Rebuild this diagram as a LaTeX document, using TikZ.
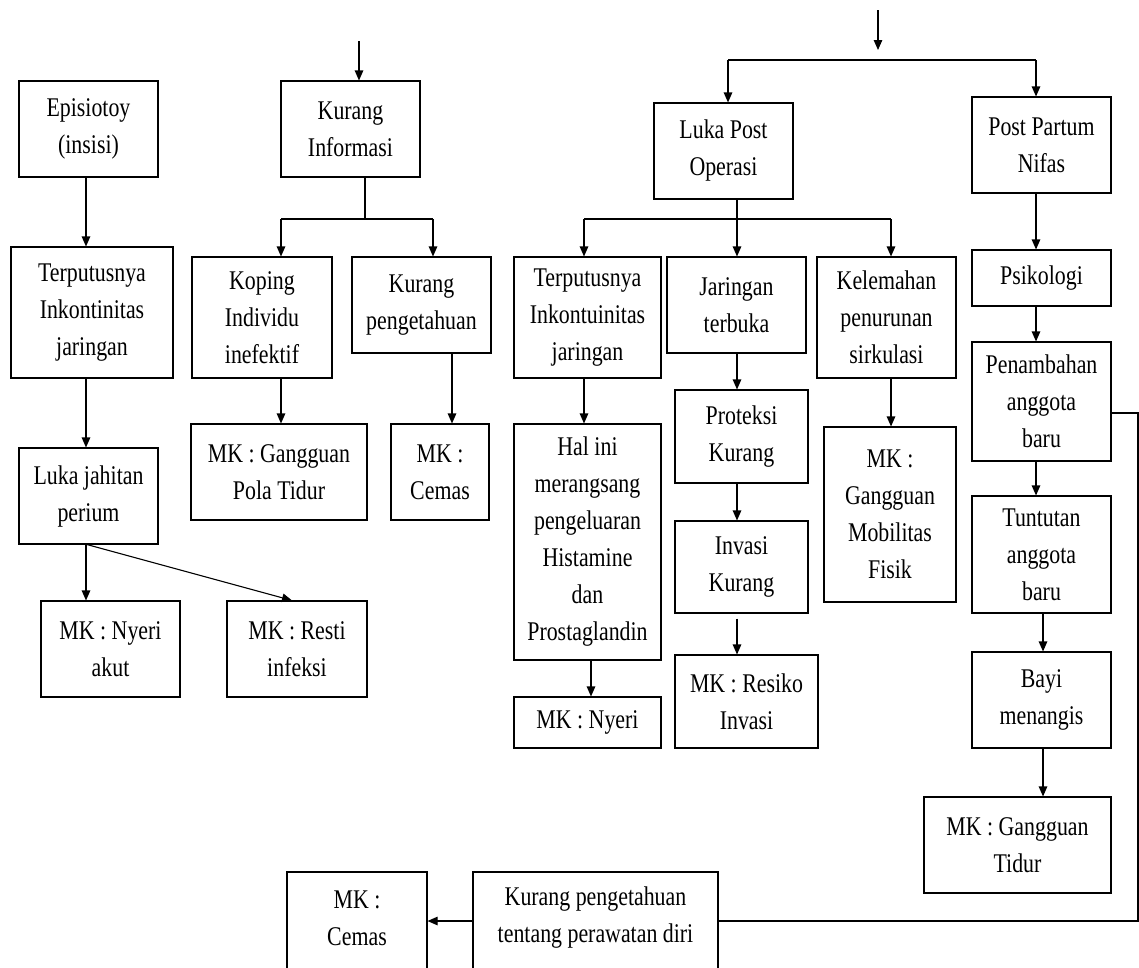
\documentclass[tikz,border=0pt]{standalone}
\usepackage{fontspec}
\setmainfont[FakeStretch=0.81]{Liberation Serif}
\usetikzlibrary{arrows.meta}
\tikzset{
  box/.style={draw, line width=1.1pt, inner sep=0pt, align=center,
    font=\fontsize{27}{37}\selectfont},
  txt/.style={inner sep=0pt, align=center, font=\fontsize{27}{37}\selectfont},
  arr/.style={line width=1.1pt, -{Triangle[length=10pt,width=8.5pt]}},
  ln/.style={line width=1.1pt},
}
\begin{document}
\begin{tikzpicture}[x=1pt,y=-1pt]
\useasboundingbox (0,0) rectangle (1139,967);
\clip (0,0) rectangle (1139,967);
% ---------- left column ----------
\node[box, minimum width=139, minimum height=96] (epi) at (88.5,129) {Episiotoy\\(insisi)};
\node[box, minimum width=162, minimum height=131] (terp1) at (92,312.5) {Terputusnya\\Inkontinitas\\jaringan};
\node[box, minimum width=139, minimum height=96] (luka) at (88.5,496) {Luka jahitan\\perium};
\node[box, minimum width=139, minimum height=96] (mknyeriakut) at (110.5,649) {MK : Nyeri\\akut};
\node[box, minimum width=140, minimum height=96] (mkresti) at (297,649) {MK : Resti\\infeksi};
% ---------- Kurang Informasi ----------
\node[box, minimum width=139, minimum height=96] (kinf) at (350.5,129) {Kurang\\Informasi};
\node[box, minimum width=140, minimum height=121] (koping) at (262,317.5) {Koping\\Individu\\inefektif};
\node[box, minimum width=139, minimum height=96] (kpeng) at (421.5,305) {Kurang\\pengetahuan};
\node[box, minimum width=176, minimum height=96] (mkpola) at (279,472) {MK : Gangguan\\Pola Tidur};
\node[box, minimum width=98, minimum height=96] (mkcemas1) at (440,472) {MK :\\Cemas};
% ---------- Luka Post Operasi ----------
\node[box, minimum width=139, minimum height=96] (lpo) at (723.5,151) {Luka Post\\Operasi};
\node[box, minimum width=147, minimum height=121] (terp2) at (587.5,317.5) {Terputusnya\\Inkontuinitas\\jaringan};
\node[box, minimum width=139, minimum height=96] (jar) at (736.5,305) {Jaringan\\terbuka};
\node[box, minimum width=139, minimum height=121] (kel) at (886.5,317.5) {Kelemahan\\penurunan\\sirkulasi};
\node[box, minimum width=147, minimum height=236] (hal) at (587.5,542) {Hal ini\\merangsang\\pengeluaran\\Histamine\\dan\\Prostaglandin};
\node[box, minimum width=147, minimum height=51] (mknyeri) at (587.5,722.5) {MK : Nyeri};
\node[box, minimum width=133, minimum height=93] (prot) at (741.5,436.5) {Proteksi\\Kurang};
\node[box, minimum width=133, minimum height=92] (inv) at (741.5,567) {Invasi\\Kurang};
\node[box, minimum width=143, minimum height=93] (mkres) at (746.5,701.5) {MK : Resiko\\Invasi};
\node[box, minimum width=132, minimum height=175] (mkmob) at (890,514.5) {MK :\\Gangguan\\Mobilitas\\Fisik};
% ---------- Post Partum ----------
\node[box, minimum width=139, minimum height=96] (ppn) at (1041.5,145) {Post Partum\\Nifas};
\node[box, minimum width=139, minimum height=56] (psi) at (1041.5,278) {Psikologi};
\node[box, minimum width=139, minimum height=119] (pen) at (1041.5,401.5) {Penambahan\\anggota\\baru};
\node[box, minimum width=139, minimum height=117] (tun) at (1041.5,554.5) {Tuntutan\\anggota\\baru};
\node[box, minimum width=139, minimum height=96] (bayi) at (1041.5,700) {Bayi\\menangis};
\node[box, minimum width=187, minimum height=96] (mktidur) at (1017.5,845) {MK : Gangguan\\Tidur};
% ---------- bottom (cut off) ----------
\node[box, minimum width=140, minimum height=128] (mkcemas2) at (357,936) {};
\node[txt] (mkcemas2t) at (357,918) {MK :\\Cemas};
\node[box, minimum width=245, minimum height=128] (kptpd) at (595.5,936) {};
\node[txt] (kptpdt) at (595.5,918) {Kurang pengetahuan\\tentang perawatan diri};
% ---------- helper coordinates ----------
\coordinate (lx) at (86,0);
\coordinate (rx) at (292,0);
\coordinate (t1) at (359,41);
\coordinate (kj) at (365,219);
\coordinate (kx1) at (281,219);
\coordinate (kx2) at (433,219);
\coordinate (kx3) at (452,0);
\coordinate (t2) at (878,10);
\coordinate (t2e) at (878,50);
\coordinate (b1) at (728,60);
\coordinate (b2) at (1036,60);
\coordinate (l1) at (584,219);
\coordinate (l2) at (737,219);
\coordinate (l3) at (891,219);
\coordinate (hx) at (591,0);
\coordinate (px) at (1043,0);
\coordinate (pr) at (1138,413);
\coordinate (pb) at (1138,921);
% ---------- connectors: left ----------
\draw[arr] (lx |- epi.south) -- (lx |- terp1.north);
\draw[arr] (lx |- terp1.south) -- (lx |- luka.north);
\draw[arr] (lx |- luka.south) -- (lx |- mknyeriakut.north);
\draw[arr] ([xshift=1pt]lx |- luka.south) -- (rx |- mkresti.north);
% Kurang Informasi
\draw[arr] (t1) -- (t1 |- kinf.north);
\draw[ln] (kj |- kinf.south) -- (kj);
\draw[ln] (kx1) -- (kx2);
\draw[arr] (kx1) -- (kx1 |- koping.north);
\draw[arr] (kx2) -- (kx2 |- kpeng.north);
\draw[arr] (kx1 |- koping.south) -- (kx1 |- mkpola.north);
\draw[arr] (kx3 |- kpeng.south) -- (kx3 |- mkcemas1.north);
% top right
\draw[arr] (t2) -- (t2e);
\draw[ln] (b1) -- (b2);
\draw[arr] (b1) -- (b1 |- lpo.north);
\draw[arr] (b2) -- (b2 |- ppn.north);
% Luka Post Operasi
\draw[ln] (l2 |- lpo.south) -- (l2);
\draw[ln] (l1) -- (l3);
\draw[arr] (l1) -- (l1 |- terp2.north);
\draw[arr] (l2) -- (l2 |- jar.north);
\draw[arr] (l3) -- (l3 |- kel.north);
\draw[arr] (l1 |- terp2.south) -- (l1 |- hal.north);
\draw[arr] (hx |- hal.south) -- (hx |- mknyeri.north);
\draw[arr] (l2 |- jar.south) -- (l2 |- prot.north);
\draw[arr] (l2 |- prot.south) -- (l2 |- inv.north);
\draw[arr] ([yshift=-5pt]l2 |- inv.south) -- (l2 |- mkres.north);
\draw[arr] (l3 |- kel.south) -- (l3 |- mkmob.north);
% Post Partum
\draw[arr] (b2 |- ppn.south) -- (b2 |- psi.north);
\draw[arr] (b2 |- psi.south) -- (b2 |- pen.north);
\draw[arr] (b2 |- pen.south) -- (b2 |- tun.north);
\draw[arr] (px |- tun.south) -- (px |- bayi.north);
\draw[arr] (px |- bayi.south) -- (px |- mktidur.north);
% loop to bottom
\draw[ln] (pen.east |- pr) -- (pr) -- (pb) -- (kptpd.east |- pb);
\draw[arr] (kptpd.west |- pb) -- (mkcemas2.east |- pb);
\end{tikzpicture}
\end{document}
